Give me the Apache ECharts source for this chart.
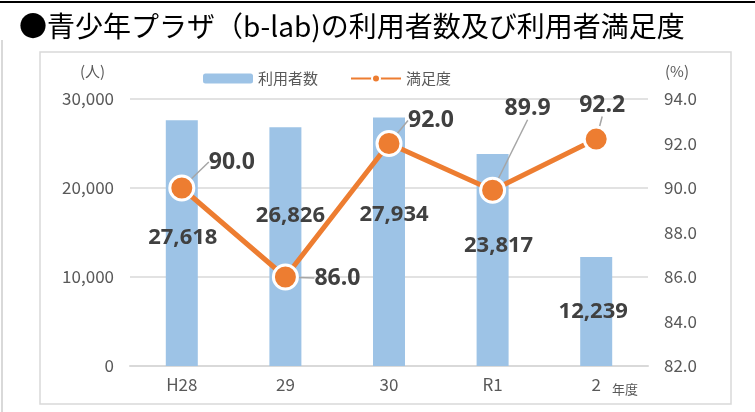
<!DOCTYPE html>
<html>
<head>
<meta charset="utf-8">
<script src="https://cdn.jsdelivr.net/npm/echarts@6/dist/echarts.min.js"></script>
<style>
  html, body { margin: 0; padding: 0; background: #fff; }
  #chart { width: 755px; height: 412px; }
</style>
</head>
<body>
<div id="chart"></div>
<script>
  const categories = ['H28', '29', '30', 'R1', '2'];
  const users = [27618, 26826, 27934, 23817, 12239];
  const satisfaction = [90.0, 86.0, 92.0, 89.9, 92.2];

  // label nudges
  const barLabelShift = [[1, -5], [5, -31], [5, -27], [6, -14], [-3, 0]];
  const lineLabelShift = [[50, -26], [52, 1], [42, -23], [35, -82], [6, -34]];

  const chart = echarts.init(document.getElementById('chart'));
  const txt = '#595959';
  const cjk = '"Noto Sans CJK JP", "Noto Sans", sans-serif';

  const option = {
    animation: false,
    textStyle: { fontFamily: cjk },
    graphic: [
      { type: 'rect', shape: { x: 0, y: 1, width: 755, height: 2 }, style: { fill: '#000' } },
      { type: 'rect', shape: { x: 1, y: 40, width: 2, height: 372 }, style: { fill: '#d9d9d9' } },
      { type: 'rect', shape: { x: 40, y: 52, width: 691, height: 352 }, style: { fill: 'none', stroke: '#d9d9d9', lineWidth: 1.5 } },
      { type: 'text', left: 19, top: 12, style: { text: '●青少年プラザ（b-lab)の利用者数及び利用者満足度', font: '400 28px ' + cjk, fill: '#000' } },
      { type: 'text', left: 80, top: 64, style: { text: '(人)', font: '15px ' + cjk, fill: txt } },
      { type: 'text', left: 665, top: 64, style: { text: '(%)', font: '15px ' + cjk, fill: txt } },
      { type: 'text', left: 612, top: 383, style: { text: '年度', font: '13px ' + cjk, fill: txt } }
    ],
    legend: {
      left: 198, top: 66,
      itemWidth: 50, itemHeight: 10, itemGap: 32,
      textStyle: { color: txt, fontSize: 15 },
      data: ['利用者数', '満足度']
    },
    grid: { left: 130, right: 107, top: 99, bottom: 46 },
    xAxis: {
      type: 'category',
      data: categories,
      axisLine: { lineStyle: { color: '#d9d9d9', width: 2 } },
      axisTick: { show: false },
      axisLabel: { color: txt, fontSize: 17, margin: 10 }
    },
    yAxis: [
      {
        type: 'value', min: 0, max: 30000, interval: 10000,
        axisLabel: { color: txt, fontSize: 17, margin: 16, formatter: v => v.toLocaleString('en-US') },
        splitLine: { lineStyle: { color: '#d9d9d9', width: 1.5 } }
      },
      {
        type: 'value', min: 82, max: 94, interval: 2,
        axisLabel: { color: txt, fontSize: 17, margin: 16, formatter: v => v.toFixed(1) },
        splitLine: { show: false }
      }
    ],
    series: [
      {
        name: '利用者数',
        type: 'bar',
        barWidth: 32,
        itemStyle: { color: '#9dc3e6' },
        data: users,
        label: {
          show: true, position: 'inside',
          color: '#404040', fontWeight: 'bold', fontSize: 22, fontFamily: '"Open Sans", sans-serif',
          formatter: p => p.value.toLocaleString('en-US')
        },
        labelLayout: p => ({ dx: barLabelShift[p.dataIndex][0], dy: barLabelShift[p.dataIndex][1] })
      },
      {
        name: '満足度',
        type: 'line',
        yAxisIndex: 1,
        data: satisfaction,
        symbol: 'circle',
        symbolSize: 24,
        lineStyle: { color: '#ed7d31', width: 5 },
        itemStyle: { color: '#ed7d31', borderColor: '#fff', borderWidth: 3 },
        label: {
          show: true, position: 'inside',
          color: '#404040', fontWeight: 'bold', fontSize: 23, fontFamily: '"Open Sans", sans-serif',
          formatter: p => p.value.toFixed(1)
        },
        labelLine: { show: true, lineStyle: { color: '#a6a6a6', width: 1.5 } },
        labelLayout: p => ({ dx: lineLabelShift[p.dataIndex][0], dy: lineLabelShift[p.dataIndex][1] })
      }
    ]
  };

  chart.setOption(option);
</script>
</body>
</html>
